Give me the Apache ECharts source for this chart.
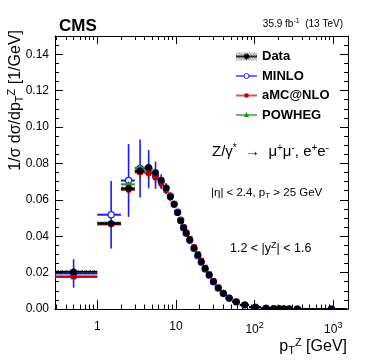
<!DOCTYPE html>
<html><head><meta charset="utf-8">
<script src="https://cdn.jsdelivr.net/npm/echarts@6/dist/echarts.min.js"></script>
<style>html,body{margin:0;padding:0;background:#fff}#c{width:374px;height:363px}</style>
</head><body><div id="c"></div>
<script>
// ---------------- data ----------------
const binLow    = [0,1,2,3,4,5,6,7,8,9,10,11,12,13,14,16,18,20,22,25,28,32,37,43,52,65,85,120,160,190,220,250,300,400];
const binHigh   = [1,2,3,4,5,6,7,8,9,10,11,12,13,14,16,18,20,22,25,28,32,37,43,52,65,85,120,160,190,220,250,300,400,1500];
const binCenter = [0.5,1.5,2.5,3.5,4.5,5.5,6.5,7.5,8.5,9.5,10.5,11.5,12.5,13.5,15,17,19,21,23.5,26.5,30,34.5,40,47.5,58.5,75,102.5,140,175,205,235,275,350,950];

const dataVal = [0.0205,0.0470,0.0663,0.0758,0.0778,0.0750,0.0708,0.0666,0.0617,0.0577,0.0529,0.0483,0.0445,0.0415,0.0380,0.0335,0.0296,0.0260,0.0222,0.0187,0.0150,0.0115,0.0086,0.0060,0.0040,0.0022,0.0010,0.00042,0.00022,0.00013,0.00008,0.00005,0.00002,0.000002];
const dataErr = [0.0004,0.0006,0.0006,0.0006,0.0006,0.0005,0.0005,0.0005,0.0005,0.0004,0.0004,0.0004,0.0004,0.0004,0.0003,0.0003,0.0003,0.0003,0.0002,0.0002,0.0002,0.0002,0.0001,0.0001,0.0001,0.0001,0.00005,0.00003,0.00002,0.00001,0.00001,0.00001,0.000005,0.000001];
const dataSys = [0.0010,0.0010,0.0011,0.0011,0.0011,0.0010,0.0010,0.0009,0.0009,0.0008,0.0008,0.0007,0.0007,0.0007,0.0006,0.0006,0.0005,0.0005,0.0004,0.0004,0.0003,0.0003,0.0002,0.0002,0.0001,0.0001,0.00005,0.00003,0.00002,0.00001,0.00001,0.00001,0.000005,0.000001];

const minloVal = [0.0195,0.0518,0.0706,0.0772,0.0768,0.0735,0.0700,0.0662,0.0620,0.0575,0.0532,0.0488,0.0448,0.0418,0.0378,0.0332,0.0293,0.0257,0.0220,0.0186,0.0150,0.0115,0.0085,0.0059,0.0039,0.0022,0.0010,0.00041,0.00021,0.00012,0.00008,0.00005,0.00002,0.000002];
const minloErr = [0.0078,0.0185,0.0200,0.0160,0.0105,0.0075,0.0040,0.0030,0.0022,0.0018,0.0015,0.0012,0.0010,0.0009,0.0008,0.0007,0.0006,0.0005,0.0004,0.0004,0.0003,0.0003,0.0002,0.0002,0.0001,0.0001,0.00005,0.00003,0.00002,0.00001,0.00001,0.00001,0.000005,0.000001];

const amcVal = [0.0178,0.0465,0.0655,0.0750,0.0746,0.0722,0.0688,0.0652,0.0612,0.0574,0.0530,0.0487,0.0450,0.0421,0.0387,0.0342,0.0303,0.0267,0.0229,0.0193,0.0156,0.0120,0.0090,0.0063,0.0042,0.0023,0.0011,0.00045,0.00023,0.00014,0.00009,0.00005,0.00002,0.000002];
const amcErr = [0.0012,0.0020,0.0025,0.0030,0.0030,0.0028,0.0025,0.0020,0.0020,0.0018,0.0015,0.0013,0.0012,0.0011,0.0010,0.0009,0.0008,0.0007,0.0006,0.0005,0.0004,0.0004,0.0003,0.0002,0.0002,0.0001,0.00005,0.00003,0.00002,0.00001,0.00001,0.00001,0.000005,0.000001];

const powhegVal = [0.0176,0.0474,0.0685,0.0776,0.0772,0.0745,0.0712,0.0670,0.0622,0.0580,0.0533,0.0488,0.0450,0.0420,0.0384,0.0338,0.0298,0.0262,0.0224,0.0189,0.0152,0.0116,0.0087,0.0061,0.0040,0.0022,0.0010,0.00042,0.00022,0.00013,0.00008,0.00005,0.00002,0.000002];
const powhegErr = [0.0008,0.0010,0.0012,0.0012,0.0012,0.0011,0.0010,0.0009,0.0009,0.0008,0.0008,0.0007,0.0007,0.0006,0.0006,0.0005,0.0005,0.0004,0.0004,0.0003,0.0003,0.0002,0.0002,0.0002,0.0001,0.0001,0.00005,0.00003,0.00002,0.00001,0.00001,0.00001,0.000005,0.000001];

const seriesNames = ['Data','MINLO','aMC@NLO','POWHEG'];
const xMajorTicks = [1,10,100,1000];
const xTickLabels = ['{b|1}','{b|10}','{b|10}{sup|2}','{b|10}{sup|3}'];
const yMajorTicks = [0,0.02,0.04,0.06,0.08,0.10,0.12,0.14];
const yTickLabels = ['0.00','0.02','0.04','0.06','0.08','0.10','0.12','0.14'];

// ---------------- setup ----------------
const X_MIN = 0.29, X_MAX = 1540, Y_MIN = 0, Y_MAX = 0.15;
const FONT = '"Liberation Sans", Arial, Helvetica, sans-serif';
const C_DATA = '#000000', C_MINLO = '#1a1aff', C_AMC = '#b30000', C_POW = '#248f24';

const xMinorTicks = [];
[0.1,1,10,100,1000].forEach(d => { for (let k = 2; k <= 9; k++) { const v = +(k*d).toPrecision(3); if (v > X_MIN && v < X_MAX) xMinorTicks.push(v); } });
const yMinorTicks = [];
for (let i = 1; i < 30; i++) if (i % 4 !== 0) yMinorTicks.push(+(i*0.005).toFixed(3));

// hatch pattern
const hatch = document.createElement('canvas'); hatch.width = 4; hatch.height = 4;
(function(){ const g = hatch.getContext('2d'); g.strokeStyle = 'rgba(0,0,0,0.75)'; g.lineWidth = 0.8;
  g.beginPath(); g.moveTo(0,0); g.lineTo(4,4); g.moveTo(-1,3); g.lineTo(1,5); g.moveTo(3,-1); g.lineTo(5,1); g.stroke(); })();
const hatchPattern = { image: hatch, repeat: 'repeat' };

function iconURL(kind, color) {
  const cv = document.createElement('canvas'); cv.width = 21; cv.height = 12;
  const g = cv.getContext('2d');
  if (kind === 'data') {
    g.save(); g.beginPath(); g.rect(0, 2, 21, 8); g.clip();
    g.strokeStyle = 'rgba(0,0,0,0.7)'; g.lineWidth = 0.8; g.beginPath();
    for (let x = -12; x < 22; x += 2.5) { g.moveTo(x, 2); g.lineTo(x + 8, 10); }
    g.stroke(); g.restore();
  }
  g.strokeStyle = color; g.lineWidth = kind === 'data' ? 1.6 : 1.3;
  g.beginPath(); g.moveTo(0, 6); g.lineTo(21, 6); g.stroke();
  if (kind === 'data') { g.fillStyle = color; g.beginPath(); g.arc(10.5, 6, 2.8, 0, 2*Math.PI); g.fill(); }
  if (kind === 'minlo') { g.fillStyle = '#fff'; g.lineWidth = 1; g.beginPath(); g.arc(10.5, 6, 2.5, 0, 2*Math.PI); g.fill(); g.stroke(); }
  if (kind === 'amc') { g.fillStyle = color; g.fillRect(8.5, 4, 4, 4); }
  if (kind === 'pow') { g.fillStyle = color; g.beginPath(); g.moveTo(10.5, 3); g.lineTo(13.2, 8); g.lineTo(7.8, 8); g.closePath(); g.fill(); }
  return 'image://' + cv.toDataURL();
}

function rows(vals, errs, sys) {
  return binCenter.map((c, i) => [c, vals[i], binLow[i], binHigh[i], errs[i], sys ? sys[i] : 0]);
}

function mkRender(kind, color) {
  return function (params, api) {
    const xc = api.value(0), y = api.value(1);
    const lo = Math.max(api.value(2), X_MIN), hi = Math.min(api.value(3), X_MAX);
    const e = api.value(4), s = api.value(5);
    const pc = api.coord([xc, y]), pl = api.coord([lo, y]), ph = api.coord([hi, y]);
    const ch = [];
    if (kind === 'data') {
      const t = api.coord([xc, y + s])[1], b = api.coord([xc, y - s])[1];
      ch.push({ type: 'rect', shape: { x: pl[0], y: t, width: ph[0] - pl[0], height: b - t }, style: { fill: hatchPattern, stroke: null } });
    }
    ch.push({ type: 'line', shape: { x1: pl[0], y1: pc[1], x2: ph[0], y2: pc[1] }, style: { stroke: color, lineWidth: 2 } });
    const pt = api.coord([xc, y + e])[1], pb = api.coord([xc, Math.max(y - e, 1e-9)])[1];
    ch.push({ type: 'line', shape: { x1: pc[0], y1: pt, x2: pc[0], y2: pb }, style: { stroke: color, lineWidth: 1.6 } });
    const cx = pc[0], cy = pc[1];
    if (kind === 'data') ch.push({ type: 'circle', shape: { cx, cy, r: 3.3 }, style: { fill: color } });
    if (kind === 'minlo') ch.push({ type: 'circle', shape: { cx, cy, r: 3.1 }, style: { fill: '#fff', stroke: color, lineWidth: 1.2 } });
    if (kind === 'amc') ch.push({ type: 'rect', shape: { x: cx - 2.6, y: cy - 2.6, width: 5.2, height: 5.2 }, style: { fill: color } });
    if (kind === 'pow') ch.push({ type: 'polygon', shape: { points: [[cx, cy - 3.6], [cx + 3.3, cy + 2.4], [cx - 3.3, cy + 2.4]] }, style: { fill: color } });
    return { type: 'group', children: ch };
  };
}

function mkSeries(name, kind, color, data) {
  return { type: 'custom', name, xAxisIndex: 0, yAxisIndex: 0, clip: true, itemStyle: { color },
    encode: { x: 0, y: 1 }, renderItem: mkRender(kind, color), data, silent: true };
}

function xAx(pos, ticks, len, showLine, showLabel) {
  return { type: 'log', logBase: 10, position: pos, min: X_MIN, max: X_MAX,
    axisLine: { show: showLine, onZero: false, lineStyle: { color: '#000', width: 1 } },
    axisTick: { show: true, inside: true, length: len, customValues: ticks, lineStyle: { color: '#000', width: 1 } },
    axisLabel: showLabel ? { show: true, customValues: xMajorTicks, margin: 12, color: '#000', fontFamily: FONT, fontSize: 12,
      formatter: v => { const i = xMajorTicks.findIndex(t => Math.abs(Math.log10(t) - Math.log10(v)) < 1e-6); return i >= 0 ? xTickLabels[i] : ''; },
      rich: { b: { fontSize: 12, fontFamily: FONT, color: '#000' }, sup: { fontSize: 9, fontFamily: FONT, color: '#000', padding: [0, 0, 8, 0] } } } : { show: false },
    splitLine: { show: false }, minorTick: { show: false }, minorSplitLine: { show: false } };
}
function yAx(pos, ticks, len, showLine, showLabel) {
  return { type: 'value', position: pos, min: Y_MIN, max: Y_MAX,
    axisLine: { show: showLine, onZero: false, lineStyle: { color: '#000', width: 1 } },
    axisTick: { show: true, inside: true, length: len, customValues: ticks, lineStyle: { color: '#000', width: 1 } },
    axisLabel: showLabel ? { show: true, customValues: yMajorTicks, margin: 6, color: '#000', fontFamily: FONT, fontSize: 12,
      formatter: v => { const i = yMajorTicks.findIndex(t => Math.abs(t - v) < 1e-9); return i >= 0 ? yTickLabels[i] : ''; } } : { show: false },
    splitLine: { show: false }, minorTick: { show: false }, minorSplitLine: { show: false } };
}

function txt(x, y, text, size, opt) {
  opt = opt || {};
  const sub = Math.round(size * 0.68);
  return { type: 'text', x, y, rotation: opt.rot || 0, silent: true,
    style: { text, fill: '#000', fontFamily: FONT, fontSize: size, fontWeight: opt.bold ? 'bold' : 'normal',
      align: opt.align || 'left', verticalAlign: 'middle', textAlign: opt.align || 'left', textVerticalAlign: 'middle',
      rich: { sup: { fontSize: sub, fontFamily: FONT, fill: '#000', padding: [0, 0, Math.round(size * 0.55), 0] },
              sub: { fontSize: sub, fontFamily: FONT, fill: '#000', padding: [Math.round(size * 0.45), 0, 0, 0] } } } };
}

const chart = echarts.init(document.getElementById('c'), null, { renderer: 'canvas' });
chart.setOption({
  animation: false,
  backgroundColor: '#fff',
  grid: { left: 55, right: 26, top: 36, bottom: 54, containLabel: false, outerBoundsMode: 'none' },
  xAxis: [ xAx('bottom', xMajorTicks, 9, true, true), xAx('bottom', xMinorTicks, 4.5, false, false),
           xAx('top', xMajorTicks, 8, true, false), xAx('top', xMinorTicks, 4, false, false) ],
  yAxis: [ yAx('left', yMajorTicks, 8, true, true), yAx('left', yMinorTicks, 4, false, false),
           yAx('right', yMajorTicks, 8, true, false), yAx('right', yMinorTicks, 4, false, false) ],
  legend: { orient: 'vertical', left: 236, top: 50, itemWidth: 21, itemHeight: 12, itemGap: 6.5, padding: 0,
    selectedMode: false, textStyle: { fontFamily: FONT, fontSize: 13, fontWeight: 'bold', color: '#000' },
    data: [ { name: seriesNames[0], icon: iconURL('data', C_DATA) }, { name: seriesNames[1], icon: iconURL('minlo', C_MINLO) },
            { name: seriesNames[2], icon: iconURL('amc', C_AMC) }, { name: seriesNames[3], icon: iconURL('pow', C_POW) } ] },
  series: [
    mkSeries(seriesNames[1], 'minlo', C_MINLO, rows(minloVal, minloErr)),
    mkSeries(seriesNames[3], 'pow', C_POW, rows(powhegVal, powhegErr)),
    mkSeries(seriesNames[2], 'amc', C_AMC, rows(amcVal, amcErr)),
    mkSeries(seriesNames[0], 'data', C_DATA, rows(dataVal, dataErr, dataSys))
  ],
  graphic: [
    txt(59, 26, 'CMS', 17, { bold: true }),
    txt(343, 24, '35.9 fb{sup|-1}  (13 TeV)', 10, { align: 'right' }),
    txt(212, 152, 'Z/γ{sup|*}  →  μ{sup|+}μ{sup|-}, e{sup|+}e{sup|-}', 15),
    txt(211, 193, '|η| < 2.4, p{sub|T} > 25 GeV', 11.5),
    txt(230, 249, '1.2 < |y{sup|Z}| < 1.6', 12.5),
    txt(347, 347, 'p{sub|T}{sup|Z} [GeV]', 16, { align: 'right' }),
    txt(16, 30, '1/σ dσ/dp{sub|T}{sup|Z} [1/GeV]', 16, { align: 'right', rot: Math.PI / 2 })
  ]
});
</script></body></html>
